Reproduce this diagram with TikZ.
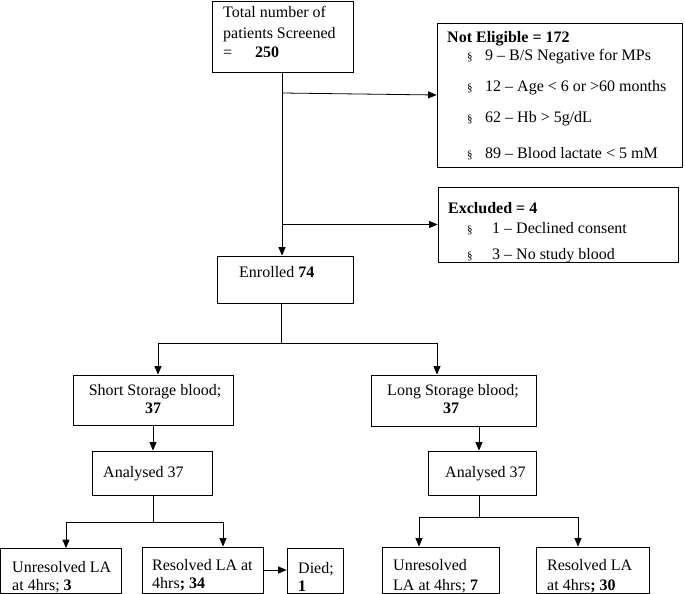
\documentclass[tikz,border=0pt]{standalone}
\usepackage{fontspec}
\setmainfont{Liberation Serif}
\usetikzlibrary{arrows.meta}
\begin{document}
\begin{tikzpicture}[x=1pt,y=-1pt,
  box/.style={draw,line width=0.8pt,inner sep=0pt,rectangle},
  txt/.style={anchor=base west,inner sep=0pt,font=\fontsize{16}{19}\selectfont},
  ctxt/.style={anchor=base,inner sep=0pt,font=\fontsize{16}{19}\selectfont},
  conn/.style={line width=0.8pt},
  arr/.style={line width=0.8pt,-{Triangle[length=8.5pt,width=7pt]}}]
\useasboundingbox (0,0) rectangle (685,594);
\clip (0,0) rectangle (685,594);
\newcommand{\sect}{{\fontsize{11}{11}\selectfont §}}
% boxes
\node[box,minimum width=141pt,minimum height=71pt] (top) at (282.5,36.5) {};
\node[box,minimum width=245pt,minimum height=144pt] (notel) at (559.5,95) {};
\node[box,minimum width=240pt,minimum height=75pt] (excl) at (558,224.5) {};
\node[box,minimum width=136pt,minimum height=47pt] (enr) at (285,279.5) {};
\node[box,minimum width=160pt,minimum height=50pt] (ssb) at (153,400) {};
\node[box,minimum width=165pt,minimum height=51pt] (lsb) at (453.5,400.5) {};
\node[box,minimum width=120pt,minimum height=44pt] (an1) at (152,473) {};
\node[box,minimum width=108pt,minimum height=44pt] (an2) at (482,473) {};
\node[box,minimum width=120.5pt,minimum height=45pt] (un1) at (60.75,571) {};
\node[box,minimum width=121pt,minimum height=46pt] (re1) at (202.5,570) {};
\node[box,minimum width=56pt,minimum height=45pt] (died) at (315,570.5) {};
\node[box,minimum width=117pt,minimum height=46pt] (un2) at (440.5,570) {};
\node[box,minimum width=113pt,minimum height=46pt] (re2) at (592.5,570) {};
% texts
\node[txt] (t1) at (223,18) {Total number of};
\node[txt] (t2) at (223,38) {patients Screened};
\node[txt] (t3) at (223,58) {=};
\node[txt] (t4) at (255,58) {\bfseries 250};
\node[txt] (n0) at (447,43) {\bfseries Not Eligible = 172};
\node[txt] (n1s) at (467,60) {\sect};
\node[txt] (n1) at (485,60) {9 – B/S Negative for MPs};
\node[txt] (n2s) at (467,92) {\sect};
\node[txt] (n2) at (485,92) {12 – Age < 6 or >60 months};
\node[txt] (n3s) at (467,122) {\sect};
\node[txt] (n3) at (485,122) {62 – Hb > 5g/dL};
\node[txt] (n4s) at (467,158) {\sect};
\node[txt] (n4) at (485,158) {89 – Blood lactate < 5 mM};
\node[txt] (e0) at (448,213) {\bfseries Excluded = 4};
\node[txt] (e1s) at (467,233) {\sect};
\node[txt] (e1) at (492,233) {1 – Declined consent};
\node[txt] (e2s) at (467,259) {\sect};
\node[txt] (e2) at (492,259) {3 – No study blood};
\node[txt] (en) at (239,277) {Enrolled \textbf{74}};
\node[ctxt] (s1) at (155,395) {Short Storage blood;};
\node[ctxt] (s2) at (153,413) {\bfseries 37};
\node[ctxt] (l1) at (453,395) {Long Storage blood;};
\node[ctxt] (l2) at (451,413) {\bfseries 37};
\node[txt] (a1) at (103,477) {Analysed 37};
\node[txt] (a2) at (445,477) {Analysed 37};
\node[txt] (u1a) at (12,572) {Unresolved LA};
\node[txt] (u1b) at (12,590) {at 4hrs; \textbf{3}};
\node[txt] (r1a) at (152,570) {Resolved LA at};
\node[txt] (r1b) at (152,588) {4hrs\textbf{;  34}};
\node[txt] (d1) at (298,573) {Died;};
\node[txt] (d2) at (298,591) {\bfseries 1};
\node[txt] (u2a) at (393,570) {Unresolved};
\node[txt] (u2b) at (393,590) {LA at 4hrs; \textbf{7}};
\node[txt] (r2a) at (547,570) {Resolved LA};
\node[txt] (r2b) at (547,590) {at 4hrs\textbf{;  30}};
% connectors
\coordinate (c0) at (282,72);
\coordinate (b1) at (282,93);
\coordinate (b2) at (282,224.5);
\draw[arr] (c0) -- (c0 |- enr.north);
\draw[arr] (b1) -- (notel.west);
\draw[arr] (b2) -- (excl.west);
\coordinate (e0s) at (281.5,303);
\coordinate (h1) at (281.5,343);
\coordinate (hl) at (158,343);
\coordinate (hr) at (437,343);
\draw[conn] (e0s) -- (h1);
\draw[arr] (h1) -- (hl) -- (hl |- ssb.north);
\draw[arr] (h1) -- (hr) -- (hr |- lsb.north);
\draw[arr] (ssb.south) -- (an1.north -| ssb.south);
\coordinate (l0) at (479,426);
\draw[arr] (l0) -- (l0 |- an2.north);
\coordinate (a1s) at (153,495);
\coordinate (a1h) at (153,522);
\coordinate (a1l) at (66,522);
\coordinate (a1r) at (223,522);
\draw[conn] (a1s) -- (a1h);
\draw[arr] (a1h) -- (a1l) -- (a1l |- un1.north);
\draw[arr] (a1h) -- (a1r) -- (a1r |- re1.north);
\draw[arr] (re1.east) -- (died.west |- re1.east);
\coordinate (a2s) at (479,495);
\coordinate (a2h) at (479,517);
\coordinate (a2l) at (419,517);
\coordinate (a2r) at (578,517);
\draw[conn] (a2s) -- (a2h);
\draw[arr] (a2h) -- (a2l) -- (a2l |- un2.north);
\draw[arr] (a2h) -- (a2r) -- (a2r |- re2.north);
\end{tikzpicture}
\end{document}
